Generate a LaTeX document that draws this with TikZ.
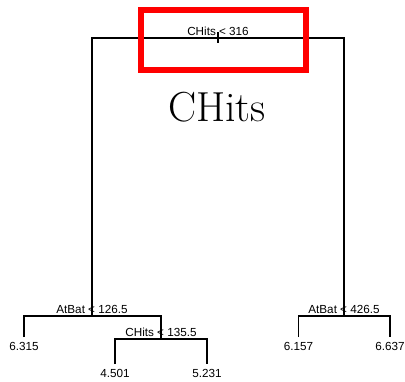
\documentclass[tikz,border=0pt]{standalone}
\usepackage{fontspec}
\newfontfamily\labelfont{Liberation Sans}

\begin{document}
\begin{tikzpicture}[x=1pt,y=-1pt]
        \useasboundingbox (0,0) rectangle (405,381);

        % split points and leaf tips
        \coordinate (1) at (218,38);
        \coordinate (2) at (92,316);
        \coordinate (3) at (344,316);
        \coordinate (4) at (24,337);
        \coordinate (5) at (161,339);
        \coordinate (6) at (115,364);
        \coordinate (7) at (207,364);
        \coordinate (8) at (298.5,337);
        \coordinate (9) at (390,337);

        \begin{scope}[line width=1.1pt]
          \draw (2) |- (1) -| (3);
          \draw (1) ++(0,-6) -- ++(0,11);
          \draw (4) |- (2) -| (5);
          \draw (6) |- (5) -| (7);
          \draw (8) |- (3) -| (9);
        \end{scope}

        \begin{scope}[every node/.style={anchor=base, inner sep=0pt, font=\labelfont\fontsize{11.7}{14}\selectfont}]
          % split labels
          \begin{scope}[every node/.append style={yshift=2.5pt}]
            \node (s1) at (1) {CHits < 316};
            \node (s2) at (2) {AtBat < 126.5};
            \node (s3) at (3) {AtBat < 426.5};
            \node (s5) at (5) {CHits < 135.5};
          \end{scope}
          % leaf values
          \begin{scope}[every node/.append style={yshift=-13.5pt}]
            \node (l4) at (4) {6.315};
            \node (l6) at (6) {4.501};
            \node (l7) at (7) {5.231};
            \node (l8) at (8) {6.157};
            \node (l9) at (9) {6.637};
          \end{scope}
        \end{scope}

        \node[anchor=base, inner sep=0pt] (title) at (217,121) {\fontsize{42}{50}\selectfont CHits};

        \draw[red, line width=6pt] (140.5,9.5) rectangle (306,69.5);

      \end{tikzpicture}
\end{document}
